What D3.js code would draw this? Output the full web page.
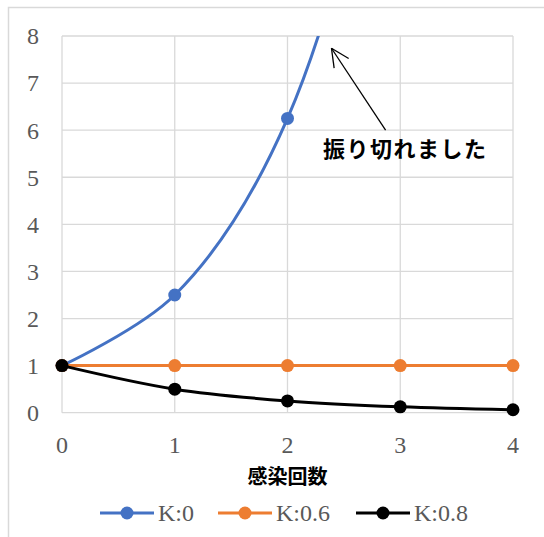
<!DOCTYPE html>
<html>
<head>
<meta charset="utf-8">
<script src="https://cdn.jsdelivr.net/npm/d3@7"></script>
<style>
body{margin:0;background:#fff;}
svg{display:block;}
</style>
</head>
<body>
<script>
// data
var counts=[0,1,2,3,4];
var seriesNames=["K:0","K:0.6","K:0.8"];
var k0=[1,2.5,6.25,15.625,39.0625];
var k06=[1,1,1,1,1];
var k08=[1,0.5,0.25,0.125,0.0625];
var yTicks=[0,1,2,3,4,5,6,7,8];
var xTitle="感染回数";
var note="振り切れました";

var colors=["#4472C4","#ED7D31","#000000"];
var series=[k0,k06,k08];

var W=544,H=537;
var pLeft=62,pRight=513,pTop=36,pBottom=412.7;

var svg=d3.select("body").append("svg").attr("width",W).attr("height",H);

// chart frame
svg.append("rect").attr("x",8.5).attr("y",7.5).attr("width",W).attr("height",H)
  .attr("fill","none").attr("stroke","#d9d9d9").attr("stroke-width",1.5);

var x=d3.scaleLinear().domain([0,4]).range([pLeft,pRight]);
var y=d3.scaleLinear().domain([0,8]).range([pBottom,pTop]);

// grid
svg.append("g").selectAll("line").data(yTicks).enter().append("line")
  .attr("x1",pLeft).attr("x2",pRight)
  .attr("y1",function(d){return y(d)}).attr("y2",function(d){return y(d)})
  .attr("stroke","#d9d9d9").attr("stroke-width",1.3);
svg.append("g").selectAll("line").data(counts).enter().append("line")
  .attr("x1",function(d){return x(d)}).attr("x2",function(d){return x(d)})
  .attr("y1",pTop).attr("y2",pBottom)
  .attr("stroke","#d9d9d9").attr("stroke-width",1.3);

// tick labels
svg.append("g").selectAll("text").data(yTicks).enter().append("text")
  .attr("x",39).attr("y",function(d){return y(d)})
  .attr("dy","0.35em").attr("text-anchor","end")
  .attr("font-family","Liberation Serif, serif").attr("font-size",24)
  .attr("fill","#595959").text(function(d){return d});
svg.append("g").selectAll("text").data(counts).enter().append("text")
  .attr("x",function(d){return x(d)}).attr("y",453)
  .attr("text-anchor","middle")
  .attr("font-family","Liberation Serif, serif").attr("font-size",24)
  .attr("fill","#595959").text(function(d){return d});

// axis title
svg.append("text").attr("x",(pLeft+pRight)/2).attr("y",484)
  .attr("text-anchor","middle")
  .attr("font-family","Noto Sans CJK JP, sans-serif").attr("font-weight","bold")
  .attr("font-size",20).attr("fill","#000").text(xTitle);

// clip
svg.append("clipPath").attr("id","plot").append("rect")
  .attr("x",0).attr("y",pTop).attr("width",W).attr("height",H);

var line=d3.line()
  .x(function(d,i){return x(counts[i])})
  .y(function(d){return y(d)})
  .curve(d3.curveCatmullRom);

var g=svg.append("g").attr("clip-path","url(#plot)");
series.forEach(function(s,si){
  g.append("path").datum(s).attr("d",line)
    .attr("fill","none").attr("stroke",colors[si]).attr("stroke-width",3)
    .attr("stroke-linejoin","round");
  g.selectAll("circle.s"+si).data(s).enter().append("circle")
    .attr("class","s"+si)
    .attr("cx",function(d,i){return x(counts[i])})
    .attr("cy",function(d){return y(d)})
    .attr("r",6.5).attr("fill",colors[si]);
});

// annotation
var tip=[x(2.39),y(7.74)], tail=[x(2.87),y(6.0)];
svg.append("line").attr("x1",tail[0]).attr("y1",tail[1]).attr("x2",tip[0]).attr("y2",tip[1])
  .attr("stroke","#000").attr("stroke-width",1.3);
var ang=Math.atan2(tail[1]-tip[1],tail[0]-tip[0]);
[0.45,-0.45].forEach(function(a){
  svg.append("line").attr("x1",tip[0]).attr("y1",tip[1])
    .attr("x2",tip[0]+20*Math.cos(ang+a)).attr("y2",tip[1]+20*Math.sin(ang+a))
    .attr("stroke","#000").attr("stroke-width",1.3);
});
svg.append("text").attr("x",323).attr("y",149).attr("dy","0.35em")
  .attr("font-family","Noto Sans CJK JP, sans-serif").attr("font-weight","bold")
  .attr("font-size",22).attr("letter-spacing","1.5px").attr("fill","#000").text(note);

// legend
var legX=[100,218,356];
var leg=svg.append("g").selectAll("g").data(seriesNames).enter().append("g")
  .attr("transform",function(d,i){return "translate("+legX[i]+",513)"});
leg.append("line").attr("x1",0).attr("x2",54).attr("y1",0).attr("y2",0)
  .attr("stroke",function(d,i){return colors[i]}).attr("stroke-width",3);
leg.append("circle").attr("cx",27).attr("cy",0).attr("r",6.5)
  .attr("fill",function(d,i){return colors[i]});
leg.append("text").attr("x",58).attr("y",0).attr("dy","0.33em")
  .attr("font-family","Liberation Serif, serif").attr("font-size",24)
  .attr("fill","#595959").text(function(d){return d});
</script>
</body>
</html>
